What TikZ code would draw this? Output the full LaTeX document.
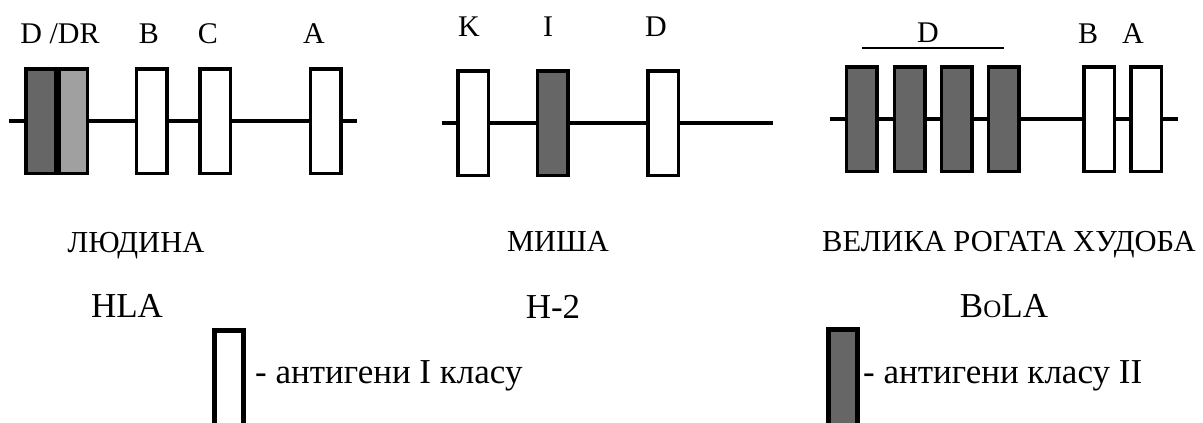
\documentclass[tikz,border=0pt]{standalone}
\usepackage{fontspec}
\setmainfont{Liberation Serif}
\definecolor{darkg}{HTML}{666666}
\definecolor{lightg}{HTML}{A0A0A0}
\begin{document}
\begin{tikzpicture}[x=1pt,y=-1pt,
  gene/.style={draw=black, line width=3.5pt, fill=white, inner sep=0pt, outer sep=0pt,
    minimum width=30.5pt, minimum height=104.5pt},
  clsII/.style={gene, fill=darkg},
  clsDR/.style={gene, fill=lightg},
  chrom/.style={line width=3.2pt},
  lbl/.style={anchor=base, inner sep=0pt, font=\fontsize{30pt}{36pt}\selectfont},
  spec/.style={anchor=base, inner sep=0pt, font=\fontsize{30.5pt}{36pt}\selectfont},
  sys/.style={anchor=base, inner sep=0pt, font=\fontsize{35pt}{40pt}\selectfont},
  leg/.style={anchor=base west, inner sep=0pt, font=\fontsize{35pt}{40pt}\selectfont},
  legbox/.style={draw=black, line width=5pt, inner sep=0pt, minimum width=29pt, minimum height=120pt, anchor=north}
]
\clip (0,0) rectangle (1203,423);
\fill[white] (0,0) rectangle (1203,423);

% ---------- HLA (human) ----------
\coordinate (h0) at (9,121);
\coordinate (h1) at (357,121);
\draw[chrom] (h0) -- (h1);
\node[gene, fill=darkg, minimum width=29.5pt] (hD) at (40.5,121) {};
\node[clsDR, minimum width=28.5pt] (hDR) at (73,121) {};
\node[gene] (hB) at (151.5,121) {};
\node[gene] (hC) at (215,121) {};
\node[gene] (hA) at (325.5,121) {};
\node[lbl] (lhD) at (60,43) {D /DR};
\node[lbl] (lhB) at (149,43) {B};
\node[lbl] (lhC) at (208,43) {C};
\node[lbl] (lhA) at (314,43) {A};

% ---------- H-2 (mouse) ----------
\coordinate (m0) at (442,123);
\coordinate (m1) at (773,123);
\draw[chrom] (m0) -- (m1);
\node[gene] (mK) at (473,123) {};
\node[clsII] (mI) at (552.5,123) {};
\node[gene] (mD) at (663,123) {};
\node[lbl] (lmK) at (469,36) {K};
\node[lbl] (lmI) at (548,36) {I};
\node[lbl] (lmD) at (656,36) {D};

% ---------- BoLA (cattle) ----------
\coordinate (c0) at (830,119);
\coordinate (c1) at (1178,119);
\draw[chrom] (c0) -- (c1);
\node[clsII] (cD1) at (861.5,119) {};
\node[clsII] (cD2) at (909.5,119) {};
\node[clsII] (cD3) at (956.5,119) {};
\node[clsII] (cD4) at (1003.5,119) {};
\node[gene] (cB) at (1099,119) {};
\node[gene] (cA) at (1146,119) {};
\coordinate (ov0) at (862,48);
\coordinate (ov1) at (1004,48);
\draw[line width=2pt] (ov0) -- (ov1);
\node[lbl] (lcD) at (928,42) {D};
\node[lbl] (lcB) at (1088,43) {B};
\node[lbl] (lcA) at (1133,43) {A};

% ---------- species and system names ----------
\node[spec] (sh) at (136,252) {ЛЮДИНА};
\node[spec] (sm) at (558,251) {МИША};
\node[spec] (sc) at (1009,251) {ВЕЛИКА РОГАТА ХУДОБА};
\node[sys] (nh) at (127,317) {HLA};
\node[sys] (nm) at (553,318) {H-2};
\node[sys] (nc) at (1004,317) {B{\fontsize{25pt}{30pt}\selectfont O}LA};

% ---------- legend ----------
\node[legbox, fill=white] (k1) at (229,327.5) {};
\node[leg] (t1) at (255,383) {- антигени I класу};
\node[legbox, fill=darkg] (k2) at (843,326.5) {};
\node[leg] (t2) at (863,383) {- антигени класу II};
\end{tikzpicture}
\end{document}
